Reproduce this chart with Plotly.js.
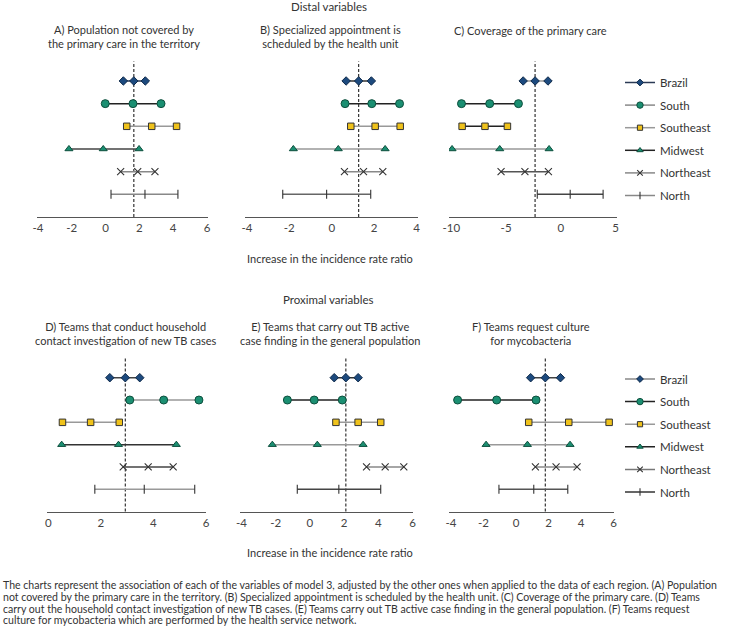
<!DOCTYPE html>
<html>
<head>
<meta charset="utf-8">
<script src="https://cdn.plot.ly/plotly-3.0.1.min.js"></script>
<style>html,body{margin:0;padding:0;background:#fff;}#chart{width:737px;height:632px;}</style>
</head>
<body>
<div id="chart"></div>
<script>
// ---------- DATA ----------
const regions = ['Brazil', 'South', 'Southeast', 'Midwest', 'Northeast', 'North'];

// Panel A) Population not covered by the primary care in the territory
const aLow  = [1.05, -0.02, 1.25, -2.17, 0.89, 0.32];
const aEst  = [1.67, 1.62, 2.73, -0.14, 1.90, 2.33];
const aHigh = [2.35, 3.28, 4.20, 1.98, 2.92, 4.28];
// Panel B) Specialized appointment is scheduled by the health unit
const bLow  = [0.68, 0.63, 0.90, -1.81, 0.60, -2.31];
const bEst  = [1.27, 1.89, 2.05, 0.31, 1.50, -0.24];
const bHigh = [1.87, 3.20, 3.23, 2.52, 2.41, 1.84];
// Panel C) Coverage of the primary care
const cLow  = [-3.44, -9.08, -9.02, -9.94, -5.46, -2.15];
const cEst  = [-2.35, -6.50, -6.93, -5.58, -3.28, 0.86];
const cHigh = [-1.17, -3.87, -4.88, -1.07, -1.13, 3.87];
// Panel D) Teams that conduct household contact investigation of new TB cases
const dLow  = [2.34, 3.10, 0.54, 0.51, 2.85, 1.77];
const dEst  = [2.93, 4.39, 1.61, 2.67, 3.80, 3.65];
const dHigh = [3.48, 5.73, 2.70, 4.87, 4.75, 5.57];
// Panel E) Teams that carry out TB active case finding in the general population
const eLow  = [1.42, -1.32, 1.52, -2.20, 3.31, -0.74];
const eEst  = [2.10, 0.25, 2.82, 0.43, 4.40, 1.69];
const eHigh = [2.82, 1.89, 4.14, 3.11, 5.49, 4.14];
// Panel F) Teams request culture for mycobacteria
const fLow  = [0.90, -3.59, 0.78, -1.84, 1.19, -1.05];
const fEst  = [1.80, -1.19, 3.24, 0.70, 2.46, 1.09];
const fHigh = [2.73, 1.23, 5.72, 3.32, 3.75, 3.18];

// Tick labels
const ticksA = [-4, -2, 0, 2, 4, 6];
const ticksB = [-4, -2, 0, 2, 4];
const ticksC = [-10, -5, 0, 5];
const ticksD = [0, 2, 4, 6];
const ticksE = [-4, -2, 0, 2, 4, 6];
const ticksF = [-4, -2, 0, 2, 4, 6];

const titlesTop = ['A) Population not covered by<br>the primary care in the territory',
                   'B) Specialized appointment is<br>scheduled by the health unit',
                   'C) Coverage of the primary care'];
const titlesBottom = ['D) Teams that conduct household<br>contact investigation of new TB cases',
                      'E) Teams that carry out TB active<br>case finding in the general population',
                      'F) Teams request culture<br>for mycobacteria'];
const sectionTop = 'Distal variables';
const sectionBottom = 'Proximal variables';
const xTitle = 'Increase in the incidence rate ratio';
const caption = [
  'The charts represent the association of each of the variables of model 3, adjusted by the other ones when applied to the data of each region. (A) Population',
  'not covered by the primary care in the territory. (B) Specialized appointment is scheduled by the health unit. (C) Coverage of the primary care. (D) Teams',
  'carry out the household contact investigation of new TB cases. (E) Teams carry out TB active case finding in the general population. (F) Teams request',
  'culture for mycobacteria which are performed by the health service network.'
];

// ---------- STYLE ----------
const W = 737, H = 632;
const FONT = 'Lato, "Open Sans", sans-serif';
const markerStyles = {
  Brazil:    {symbol: 'diamond', size: 6.5, color: '#1d4a7e', line: {color: '#0f2a4a', width: 1}},
  South:     {symbol: 'circle', size: 8, color: '#1b8f72', line: {color: '#0d4f3d', width: 1}},
  Southeast: {symbol: 'square', size: 6.5, color: '#efc21b', line: {color: '#333', width: 1}},
  Midwest:   {symbol: 'triangle-up', size: 7, color: '#1b8f72', line: {color: '#0d4f3d', width: 1}},
  Northeast: {symbol: 'x-thin-open', size: 7, color: '#333', line: {color: '#333', width: 1.1}},
  North:     {symbol: 'line-ns-open', size: 6.5, color: '#333', line: {color: '#333', width: 1.1}}
};
const legendMarkerScale = 0.8;
const lineColorsByPanel = [
  ['#2b3a55', '#222', '#999', '#444', '#888', '#888'],
  ['#333', '#222', '#999', '#999', '#888', '#666'],
  ['#999', '#222', '#222', '#999', '#555', '#444'],
  ['#444', '#999', '#999', '#333', '#444', '#999'],
  ['#333', '#222', '#999', '#999', '#888', '#444'],
  ['#444', '#222', '#999', '#999', '#888', '#555']
];
const legendLineColors = {
  legend:  ['#2b3a55', '#888', '#999', '#222', '#888', '#888'],
  legend2: ['#888', '#222', '#999', '#222', '#777', '#333']
};

const panels = [
  {low: aLow, est: aEst, high: aHigh, ticks: ticksA, ax: 'x',  ay: 'y',  dom: [37, 208],    range: [-4.06, 6.06], legend: 'legend'},
  {low: bLow, est: bEst, high: bHigh, ticks: ticksB, ax: 'x2', ay: 'y',  dom: [245, 418],   range: [-4.09, 4.07]},
  {low: cLow, est: cEst, high: cHigh, ticks: ticksC, ax: 'x3', ay: 'y',  dom: [449, 617],   range: [-10.22, 5.14]},
  {low: dLow, est: dEst, high: dHigh, ticks: ticksD, ax: 'x4', ay: 'y2', dom: [46.7, 206.3], range: [-0.06, 6.01], legend: 'legend2'},
  {low: eLow, est: eEst, high: eHigh, ticks: ticksE, ax: 'x5', ay: 'y2', dom: [240, 412.7], range: [-4.09, 6.01]},
  {low: fLow, est: fEst, high: fHigh, ticks: ticksF, ax: 'x6', ay: 'y2', dom: [449.3, 614], range: [-4.10, 6.02]}
];

const traces = [];
const shapes = [];
const layout = {
  width: W, height: H,
  margin: {l: 0, r: 0, t: 0, b: 0},
  paper_bgcolor: '#fff', plot_bgcolor: '#fff',
  font: {family: FONT, size: 11, color: '#333'},
  showlegend: true,
  annotations: []
};

const catOrder = regions.slice().reverse();
layout.yaxis  = {domain: [1 - 216.96 / H, 1 - 58.3 / H], type: 'category', categoryarray: catOrder, categoryorder: 'array', range: [-1, 6], visible: false, fixedrange: true, anchor: 'x'};
layout.yaxis2 = {domain: [1 - 511.6 / H, 1 - 355.4 / H], type: 'category', categoryarray: catOrder, categoryorder: 'array', range: [-1, 6], visible: false, fixedrange: true, anchor: 'x4'};

panels.forEach((p, pi) => {
  const axName = p.ax === 'x' ? 'xaxis' : 'xaxis' + p.ax.slice(1);
  layout[axName] = {
    domain: [p.dom[0] / W, p.dom[1] / W],
    range: p.range,
    anchor: p.ay,
    showline: true, linecolor: '#555', linewidth: 1.2,
    showgrid: false, zeroline: false, ticks: '',
    tickmode: 'array', tickvals: p.ticks, ticktext: p.ticks.map(v => String(v)),
    tickfont: {family: FONT, size: 11.5, color: '#444'}
  };
  // dashed reference line at the Brazil estimate
  shapes.push({
    type: 'line', xref: p.ax, yref: p.ay + ' domain',
    x0: p.est[0], x1: p.est[0], y0: 0, y1: 0.98,
    line: {color: '#333', width: 1.2, dash: '3px,2px'}, layer: 'below'
  });
  regions.forEach((r, ri) => {
    const ms = markerStyles[r];
    traces.push({
      type: 'scatter', mode: 'lines+markers',
      x: [p.low[ri], p.est[ri], p.high[ri]],
      y: [r, r, r],
      xaxis: p.ax, yaxis: p.ay,
      name: r, showlegend: false,
      line: {color: lineColorsByPanel[pi][ri], width: 1.5},
      marker: {symbol: ms.symbol, size: ms.size, color: ms.color, line: ms.line},
      hoverinfo: 'x+name'
    });
  });
  if (p.legend) {
    // legend-only entries (no marks drawn in the plot)
    regions.forEach((r, ri) => {
      const ms = markerStyles[r];
      traces.push({
        type: 'scatter', mode: 'lines+markers',
        x: [null], y: [null], xaxis: p.ax, yaxis: p.ay,
        name: r, legend: p.legend, legendgroup: p.legend + r, showlegend: true,
        line: {color: legendLineColors[p.legend][ri], width: 1.5},
        marker: {symbol: ms.symbol, size: ms.size * legendMarkerScale, color: ms.color, line: ms.line},
        hoverinfo: 'skip'
      });
    });
  }
});
layout.shapes = shapes;

const legendCommon = {
  xanchor: 'left', yanchor: 'top', bgcolor: 'rgba(0,0,0,0)', borderwidth: 0,
  font: {family: FONT, size: 11.5, color: '#333'},
  tracegroupgap: 3.6, itemclick: false, itemdoubleclick: false
};
layout.legend  = Object.assign({}, legendCommon, {x: 620 / W, y: 1 - 68 / H});
layout.legend2 = Object.assign({}, legendCommon, {x: 620 / W, y: 1 - 364.5 / H});

function ann(text, xpx, ypx, size, align) {
  layout.annotations.push({
    text: text, xref: 'paper', yref: 'paper',
    x: xpx / W, y: 1 - ypx / H,
    xanchor: align || 'center', yanchor: 'middle',
    showarrow: false, align: align || 'center',
    font: {family: FONT, size: size, color: '#333'}
  });
}

ann(sectionTop, 329, 6, 11.5);
ann(sectionBottom, 328, 299, 11.5);
const topCenters = [124, 330.8, 530.8];
const topMids = [36.4, 36.4, 30];
titlesTop.forEach((t, i) => ann(t, topCenters[i], topMids[i], 11));
const botCenters = [125.5, 330, 530.8];
titlesBottom.forEach((t, i) => ann(t, botCenters[i], 333, 11));
ann(xTitle, 330, 258, 11);
ann(xTitle, 330, 552, 11);
caption.forEach((line, li) => ann(line, 0.5, 585 + li * 11.8, 10.55, 'left'));

Plotly.newPlot('chart', traces, layout, {displayModeBar: false});
</script>
</body>
</html>
